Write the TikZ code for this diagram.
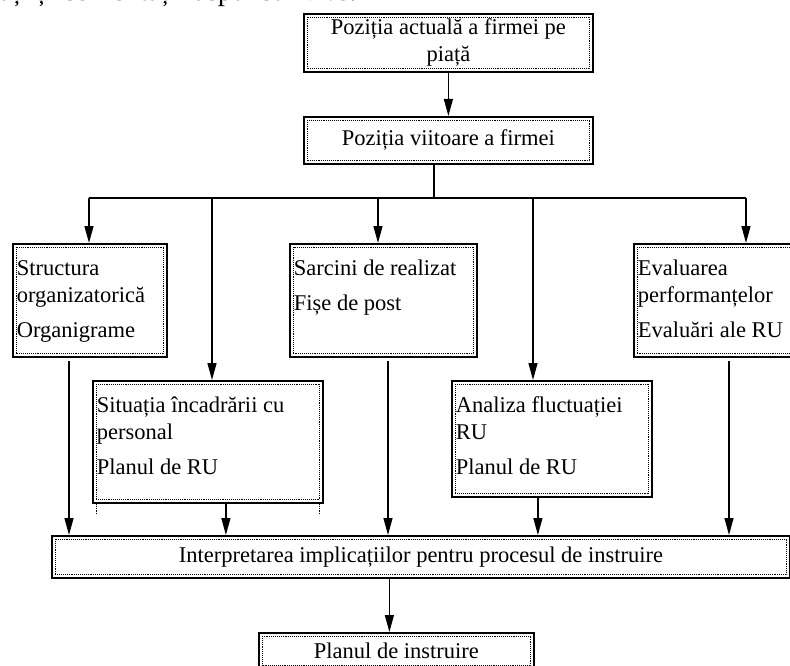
\documentclass[tikz,border=0pt]{standalone}
\usepackage{fontspec}
\setmainfont{Liberation Serif}
\usetikzlibrary{arrows.meta}

\newcommand{\celltext}[3]{\parbox[t][#2][t]{#1}{\raggedright\strut #3}}

\tikzset{
  box/.style={draw, line width=1.8pt, inner sep=0pt, anchor=north west},
  inner/.style={densely dotted, line width=0.9pt},
  link/.style={line width=1.3pt},
  arr/.style={line width=1.3pt, -{Triangle[length=17pt,width=9pt]}},
}

\begin{document}
\begin{tikzpicture}[x=1pt, y=-1pt, font=\fontsize{22.5}{27}\selectfont]
    \useasboundingbox (0,0) rectangle (790,666);
    \node[anchor=base east, font=\fontsize{29}{34}\selectfont] (hdr) at (360,1) {ați și comentați răspunsul Dvs.};
    \node[box, align=center, minimum width=289pt, minimum height=58pt] (pa) at (303,13) {Poziția actuală a firmei pe\\piață};
    \node[box, align=center, minimum width=289pt, minimum height=47pt] (pv) at (303,116) {Poziția viitoare a firmei};
    \node[box, minimum width=154pt, minimum height=113pt] (so) at (12,243) {\celltext{146pt}{87pt}{Structura\\organizatorică\\[8pt]Organigrame}};
    \node[box, minimum width=187pt, minimum height=113pt] (sr) at (289,243) {\celltext{179pt}{87pt}{Sarcini de realizat\\[8pt]Fișe de post}};
    \node[box, minimum width=163pt, minimum height=113pt] (ep) at (633,243) {\celltext{155pt}{87pt}{Evaluarea\\performanțelor\\[8pt]Evaluări ale RU}};
    \node[box, minimum width=230pt, minimum height=122pt] (si) at (92,380) {\celltext{222pt}{96pt}{Situația încadrării cu\\personal\\[8pt]Planul de RU}};
    \node[box, minimum width=200pt, minimum height=116pt] (af) at (451,380) {\celltext{192pt}{90pt}{Analiza fluctuației\\RU\\[8pt]Planul de RU}};
    \node[box, align=center, minimum width=738pt, minimum height=42pt] (ip) at (51,535) {Interpretarea implicațiilor pentru procesul de instruire};
    \node[box, align=center, minimum width=275pt, minimum height=36pt] (pi) at (258,632) {Planul de instruire};
    % dotted inner frames
    \foreach \n in {pa,pv,so,sr,ep,si,af,ip,pi}
      \draw[inner] ([shift={(4pt,-4pt)}]\n.north west) rectangle ([shift={(-4pt,4pt)}]\n.south east);
    \draw[inner] ([xshift=4pt]si.south west) -- ++(0,11);
    \draw[inner] ([xshift=-4pt]si.south east) -- ++(0,11);
    % top part
    \draw[arr] (pa) -- (pv);
    \coordinate (hub) at (434,198);
    \coordinate (b1) at (89,198);
    \coordinate (b2) at (212,198);
    \coordinate (b3) at (378,198);
    \coordinate (b4) at (533,198);
    \coordinate (b5) at (746,198);
    \draw[link] (pv.south -| hub) -- (hub);
    \draw[link] (b1) -- (b5);
    \foreach \b/\n in {b1/so, b2/si, b3/sr, b4/af, b5/ep}
      \draw[arr] (\b) -- (\b |- \n.north);
    % bottom part
    \coordinate (s1) at (69,361);
    \coordinate (s3) at (388,361);
    \coordinate (s5) at (729,361);
    \foreach \s in {s1,s3,s5}
      \draw[arr] (\s) -- (\s |- ip.north);
    \draw[arr] ([xshift=18pt]si.south) -- ([xshift=18pt]si.south |- ip.north);
    \draw[arr] ([xshift=-14pt]af.south) -- ([xshift=-14pt]af.south |- ip.north);
    \draw[arr] ([xshift=-7pt]pi.north |- ip.south) -- ([xshift=-7pt]pi.north);
\end{tikzpicture}
\end{document}
